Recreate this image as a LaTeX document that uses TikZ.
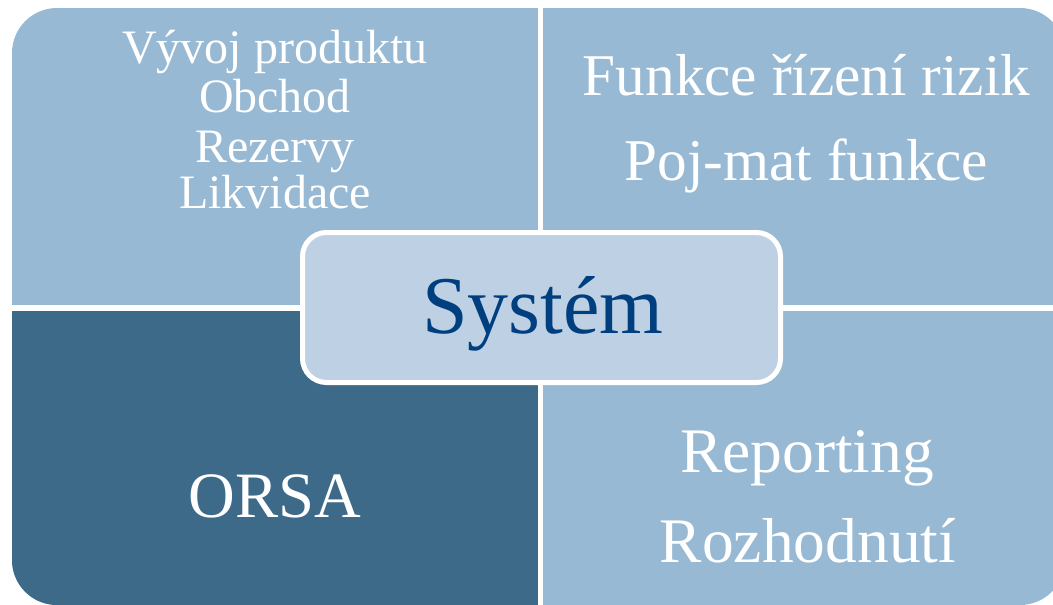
\documentclass[tikz,border=0pt]{standalone}
\usepackage{fontspec}
\setmainfont{Liberation Serif}
\definecolor{quadlight}{RGB}{151,185,211}
\definecolor{quaddark}{RGB}{62,106,138}
\definecolor{centerfill}{RGB}{189,208,228}
\definecolor{centertext}{RGB}{0,63,127}
\tikzset{
  lbl/.style={anchor=base, text=white, inner sep=0pt},
  tlfont/.style={font=\fontsize{36}{40}\selectfont},
  trfont/.style={font=\fontsize{44.4}{50}\selectfont},
  brfont/.style={font=\fontsize{47.6}{54}\selectfont},
  orsafont/.style={font=\fontsize{48.5}{55}\selectfont},
  centerbox/.style={draw=white, line width=3.75pt, fill=centerfill, rounded corners=18pt,
    minimum width=358.5pt, minimum height=112.5pt, inner sep=0pt,
    text=centertext, font=\fontsize{61.5}{70}\selectfont, text height=38.25pt, text depth=0pt}
}
\begin{document}
\begin{tikzpicture}[x=0.75pt, y=-0.75pt]
\useasboundingbox (0,0) rectangle (1053,604);
\clip (0,0) rectangle (1053,604);
% outer shape
\fill[quadlight, rounded corners=33.75pt] (12,8) rectangle (1065,605);
\begin{scope}
  \clip (0,308) rectangle (540.5,620);
  \fill[quaddark, rounded corners=33.75pt] (12,8) rectangle (1065,605);
\end{scope}
% white gaps
\fill[white] (538,0) rectangle (543,620);
\fill[white] (0,305) rectangle (1070,311);
% texts top-left
\node[lbl, tlfont] (tl1) at (275,63) {Vývoj produktu};
\node[lbl, tlfont] (tl2) at (275,112) {Obchod};
\node[lbl, tlfont] (tl3) at (275,162) {Rezervy};
\node[lbl, tlfont] (tl4) at (275,208) {Likvidace};
% top-right
\node[lbl, trfont] (tr1) at (806.5,95) {Funkce řízení rizik};
\node[lbl, trfont] (tr2) at (806.5,180) {Poj-mat funkce};
% bottom-left
\node[lbl, orsafont] (bl1) at (275,517) {ORSA};
% bottom-right
\node[lbl, brfont] (br1) at (807,472) {Reporting};
\node[lbl, brfont] (br2) at (808,562) {Rozhodnutí};
% center
\node[centerbox] (sys) at (541.5,307.5) {\hspace*{2pt}Systém};
\end{tikzpicture}
\end{document}
